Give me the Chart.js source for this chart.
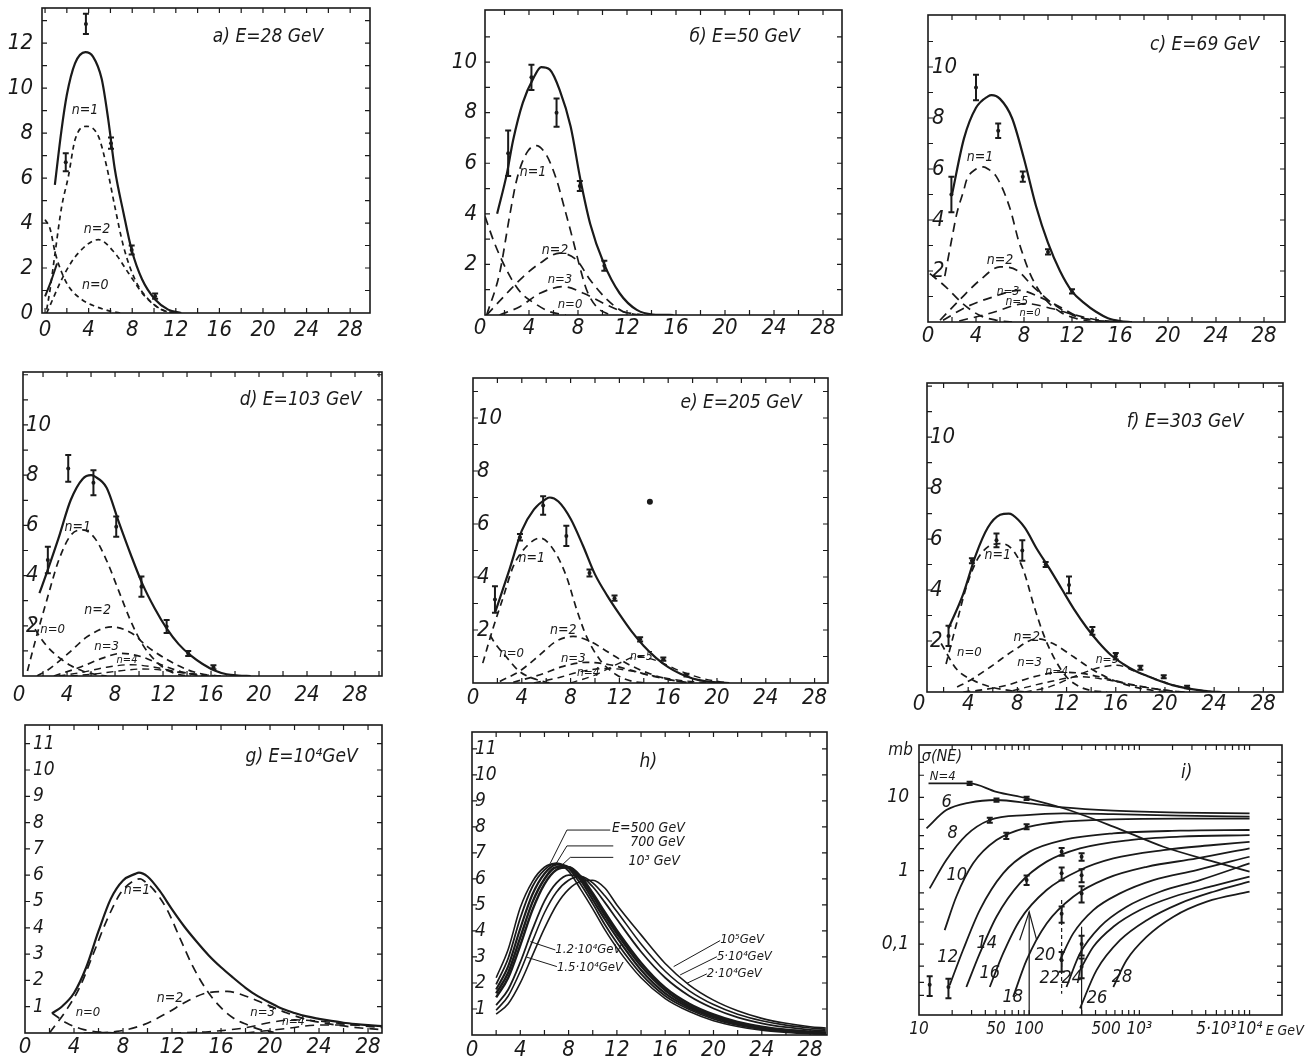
<!DOCTYPE html>
<html><head><meta charset="utf-8">
<script src="https://cdn.jsdelivr.net/npm/chart.js@4.4.1/dist/chart.umd.min.js"></script>
<style>html,body{margin:0;padding:0;background:#fff}body{width:1308px;height:1063px;position:relative;overflow:hidden}canvas{position:absolute;left:0;top:0}</style>
</head><body>
<script>
// ---------- tick values ----------
const evenTicks=[0,2,4,6,8,10,12,14,16,18,20,22,24,26,28,30];
const unitTicks=[0,1,2,3,4,5,6,7,8,9,10,11,12,13];
const xTickVals=[0,4,8,12,16,20,24,28];
const yTickA=[0,2,4,6,8,10,12];
const yTick210=[2,4,6,8,10];
const yTick111=[1,2,3,4,5,6,7,8,9,10,11];
const iXTickVals=[10,50,100,500,1000,5000,10000];
const iXTickText=['10','50','100','500','10³','5·10³','10⁴'];
const iYTickVals=[10,1,0.1];
const iYTickText=['10','1','0,1'];
const iMinorX=[20,30,40,50,60,70,80,90,100,200,300,400,500,600,700,800,900,1000,2000,3000,4000,5000,6000,7000,8000,9000,10000];
const iMinorY=[0.02,0.03,0.05,0.1,0.2,0.3,0.5,1,2,3,5,10,20,30];

// ---------- a) E=28 GeV ----------
const aSolidX=[0.9,1.5,2,2.75,3.7,4.4,5.2,5.8,6.4,7.2,7.95,8.9,10.1,11.3,12.5];
const aSolidY=[5.7,8.1,9.7,11.1,11.6,11.4,10.4,8.6,6.4,4.45,2.8,1.5,0.6,0.15,0];
const aLowX=[0,0.5,1.1];
const aLowY=[0.74,1.35,2.2];
const aN1X=[0.15,0.46,0.92,1.53,2.14,2.75,3.8,4.9,5.66,6.4,7.2,8.26,9.5,10.7,11.9];
const aN1Y=[0.15,1.04,2.67,4.74,6.07,7.7,8.3,7.85,6.5,4.74,2.96,1.48,0.6,0.15,0];
const aN2X=[0.15,1.83,3.06,4.9,6.4,7.65,9.17,10.7,11.9];
const aN2Y=[0,1.78,2.67,3.26,2.67,1.78,0.74,0.15,0];
const aN0X=[0,0.46,0.92,1.53,2.14,3.36,4.6,6.1,7.0];
const aN0Y=[4.15,3.75,2.7,1.8,1.2,0.6,0.3,0.07,0];
const aPtsX=[1.9,3.75,6.05,7.95,10.1];
const aPtsY=[6.7,12.85,7.55,2.8,0.75];
const aPtsE=[0.4,0.45,0.25,0.2,0.12];

// ---------- b) E=50 GeV ----------
const bSolidX=[1.4,2.2,2.7,3.5,4.4,5.0,5.7,6.5,7.4,8.2,9.0,10.1,11.4,12.8,14.1,15.8];
const bSolidY=[4.0,5.6,6.9,8.4,9.4,9.8,9.7,8.9,7.45,5.35,3.6,2.05,0.86,0.2,0.02,0];
const bN1X=[0.55,1.6,2.45,3.0,3.8,4.6,5.45,6.25,6.8,7.6,8.15,8.7,9.5,10.6];
const bN1Y=[0,1.65,4.0,5.35,6.4,6.7,6.3,5.35,4.4,2.95,1.9,1.0,0.33,0];
const bN0X=[0.41,1.1,1.8,2.6,3.4,4.5,5.7,7.0];
const bN0Y=[3.9,2.95,2.15,1.4,0.85,0.45,0.13,0];
const bN2X=[0.55,2.2,3.5,4.9,6.5,7.9,9.0,10.4,11.7,13.1];
const bN2Y=[0,0.86,1.5,2.05,2.45,2.17,1.38,0.6,0.13,0];
const bN3X=[1.6,3.25,4.9,6.8,8.45,10.1,11.7,13.3];
const bN3Y=[0,0.33,0.86,1.12,0.86,0.46,0.13,0];
const bPtsX=[2.3,4.2,6.25,8.15,10.15];
const bPtsY=[6.4,9.4,8.0,5.1,1.95];
const bPtsE=[0.9,0.5,0.56,0.2,0.2];

// ---------- c) E=69 GeV ----------
const cSolidX=[2,3,4,5,5.3,6,7,8,9,10,11,12,13,14,15,16,17];
const cSolidY=[5.0,7.2,8.4,8.85,8.9,8.75,8.0,6.4,4.55,3.1,2.0,1.2,0.75,0.4,0.15,0.04,0];
const cN1X=[1.4,2,2.4,3,3.2,4,4.6,5,5.7,6.8,7.6,8.5,9.6,11,12.4,13.8];
const cN1Y=[1.8,3.3,4.25,5.2,5.55,6.0,6.08,6.0,5.7,4.5,3.1,1.9,1.0,0.4,0.13,0];
const cN0X=[0.15,1.5,2.9,4.3,5.7,7];
const cN0Y=[1.9,1.37,0.72,0.26,0.07,0];
const cN2X=[1,2.6,4.3,6,7.4,8.8,10.4,12.1,13.8,15.4];
const cN2Y=[0.07,0.85,1.63,2.16,2.03,1.37,0.72,0.26,0.07,0];
const cN3X=[1.25,3.2,5.4,7.6,9.3,11,12.6,14.3,16];
const cN3Y=[0.07,0.59,0.98,1.24,0.98,0.59,0.2,0.04,0];
const cN5X=[2.6,5.1,8.2,10.4,12.4,14.3,16];
const cN5Y=[0.04,0.33,0.72,0.52,0.26,0.07,0];
const cPtsX=[1.95,4.0,5.85,7.9,10.0,12.0];
const cPtsY=[5.0,9.2,7.5,5.7,2.75,1.2];
const cPtsE=[0.7,0.5,0.28,0.2,0.1,0.08];

// ---------- d) E=103 GeV ----------
const dSolidX=[1.7,2.3,3.3,4.3,5.3,6.0,6.3,7.3,8.3,9.3,10.3,11.3,12.3,13.3,14.3,15.3,16.3,17.3,18.3,19.3];
const dSolidY=[3.3,4.1,5.5,7.0,7.85,8.0,7.95,7.5,6.15,4.85,3.65,2.7,1.9,1.27,0.82,0.48,0.22,0.07,0.02,0];
const dN1X=[0.7,1.3,2.3,3.3,4.3,5.3,6.3,7.3,8.3,9.3,10.3,11.3,12.3,13.3,14.3];
const dN1Y=[0.2,1.3,3.0,4.6,5.6,5.82,5.5,4.6,3.4,2.2,1.25,0.64,0.25,0.06,0];
const dN0X=[0.9,1.3,2.3,3.3,4.3,5.3,6.3,7.3];
const dN0Y=[2.3,1.9,1.2,0.75,0.42,0.2,0.07,0];
const dN2X=[1.5,2.4,4.1,5.7,7.7,9.4,10.7,12.4,14.1,15.7,16.8];
const dN2Y=[0,0.24,0.9,1.57,1.96,1.7,1.17,0.64,0.24,0.04,0];
const dN3X=[2.9,5.2,6.9,8.5,10.2,11.9,13.5,15.2];
const dN3Y=[0,0.37,0.7,0.9,0.77,0.44,0.17,0];
const dN4X=[3.3,5.3,7.3,9.3,11.3,13.3,15.3,16.3];
const dN4Y=[0,0.15,0.35,0.45,0.35,0.15,0.03,0];
const dN5X=[4.3,6.3,8.3,10.3,12.3,14.3,16.3,17.3];
const dN5Y=[0,0.08,0.2,0.28,0.22,0.1,0.02,0];
const dPtsX=[2.4,4.1,6.2,8.1,10.2,12.3,14.1,16.2];
const dPtsY=[4.62,8.27,7.7,5.95,3.56,1.97,0.9,0.35];
const dPtsE=[0.53,0.53,0.5,0.4,0.4,0.26,0.1,0.08];

// ---------- e) E=205 GeV ----------
const eSolidX=[1.8,3,4,5,6,6.3,7,8,9,10,11,12,13,14,15,16,17,18,19,20,21];
const eSolidY=[2.65,4.3,5.75,6.55,6.95,7.0,6.85,6.2,5.2,4.1,3.3,2.6,1.95,1.4,0.95,0.6,0.35,0.17,0.07,0.02,0];
const eN1X=[0.8,1.6,2.5,3.3,4.4,5.5,6.6,7.65,8.5,9.3,10.4,11.75,13.1,14.2];
const eN1Y=[0.75,2.0,3.27,4.4,5.16,5.47,5.03,4.03,2.77,1.76,0.88,0.31,0.06,0];
const eN0X=[1.4,1.8,2.7,3.8,5.2,6.3];
const eN0Y=[1.8,1.5,1.0,0.44,0.13,0];
const eN2X=[2.2,3.8,5.5,6.8,8.2,9.6,11.2,12.8,14.5,16.1,17.8];
const eN2Y=[0.06,0.44,1.07,1.57,1.76,1.57,1.13,0.69,0.35,0.13,0];
const eN3X=[3.3,5.5,7.4,9.3,11.2,12.8,14.5,16.4,18];
const eN3Y=[0.03,0.31,0.63,0.78,0.69,0.5,0.28,0.1,0];
const eN4X=[5,7,9,11,13,15,17,19,20];
const eN4Y=[0,0.2,0.45,0.55,0.45,0.25,0.1,0.02,0];
const eN5X=[8,10,12,13.5,15,17,19,21];
const eN5Y=[0,0.3,0.75,1.0,0.85,0.45,0.15,0];
const ePtsX=[1.8,3.85,5.75,7.65,9.55,11.6,13.7,15.6,17.5];
const ePtsY=[3.15,5.5,6.7,5.55,4.15,3.2,1.65,0.9,0.3];
const ePtsE=[0.5,0.12,0.35,0.38,0.13,0.1,0.08,0.06,0.05];
const eDotX=[14.5];
const eDotY=[6.84];

// ---------- f) E=303 GeV ----------
const fSolidX=[2.4,3.6,4.6,5.6,6.6,7.3,7.6,8.6,9.6,10.6,11.6,12.6,13.6,14.6,15.6,16.6,17.6,18.6,19.6,20.6,21.6,22.6,23.6,24.6];
const fSolidY=[2.5,3.85,5.35,6.45,6.95,7.0,6.95,6.45,5.6,4.85,4.05,3.25,2.55,1.95,1.45,1.1,0.82,0.62,0.43,0.27,0.16,0.08,0.02,0];
const fN1X=[2.2,3.05,3.85,4.7,5.6,6.7,7.65,8.5,9.3,10.1,10.95,12.0,13.1,14.2,15.3];
const fN1Y=[1.1,2.68,4.12,5.16,5.69,5.82,5.56,4.77,3.46,2.29,1.37,0.59,0.2,0.04,0];
const fN0X=[1.8,3.05,4.4,5.8,7.4,8.8];
const fN0Y=[1.9,0.9,0.46,0.2,0.06,0];
const fN2X=[3.1,3.9,5.8,7.7,9.6,10.9,12.6,14.2,15.8,17.5,19.4,20.7];
const fN2Y=[0.2,0.39,0.98,1.63,2.09,1.9,1.37,0.85,0.46,0.2,0.04,0];
const fN3X=[3.6,4.95,7.1,9.3,11.5,13.4,15.3,17.2,19.1,21.3];
const fN3Y=[0,0.07,0.26,0.59,0.78,0.72,0.52,0.3,0.13,0];
const fN4X=[7.6,10.6,13.1,15.6,17.6,19.6,21.6];
const fN4Y=[0.05,0.4,0.6,0.45,0.25,0.1,0];
const fN5X=[8.6,10.6,12.6,14.6,16.1,17.6,19.6,21.6,23.6,24.6];
const fN5Y=[0,0.2,0.6,0.95,1.05,0.8,0.45,0.15,0.03,0];
const fPtsX=[2.4,4.3,6.3,8.4,10.3,12.2,14.1,16.0,18.0,19.9,21.8];
const fPtsY=[2.2,5.15,5.95,5.55,5.0,4.2,2.4,1.4,0.95,0.6,0.2];
const fPtsE=[0.4,0.1,0.27,0.4,0.1,0.33,0.15,0.13,0.08,0.06,0.05];

// ---------- g) E=10^4 GeV ----------
const gSolidX=[2.2,3,4,5,6,7,8,9,9.3,10,11,12,13,14,15,16,17,18,19,20,21,22,23,24,25,26,27,28,29.2];
const gSolidY=[0.75,1.0,1.52,2.5,3.87,5.1,5.8,6.05,6.1,5.95,5.4,4.7,4.05,3.48,2.95,2.5,2.1,1.72,1.4,1.15,0.92,0.76,0.63,0.54,0.46,0.39,0.34,0.3,0.26];
const gN1X=[2,3.4,4.5,5.6,6.7,7.8,8.8,9.4,9.7,10.5,11.6,12.7,13.7,14.8,15.9,17,18.1,19.2,20.3];
const gN1Y=[0,0.89,1.77,3.04,4.31,5.32,5.77,5.86,5.79,5.45,4.69,3.55,2.53,1.65,1.01,0.57,0.32,0.13,0.03];
const gN0X=[2.2,3.4,4.8,6.1,7.8];
const gN0Y=[0.76,0.38,0.13,0.03,0];
const gN2X=[4.8,7.5,9.7,11.6,13.2,14.8,16.5,18.1,19.7,21.4,23,25.2,27.4,29.2];
const gN2Y=[0,0.06,0.32,0.76,1.2,1.52,1.58,1.39,1.08,0.76,0.51,0.32,0.19,0.13];
const gN3X=[12,15,18,20,22,24,26,28,29.2];
const gN3Y=[0,0.05,0.2,0.4,0.5,0.45,0.35,0.25,0.2];
const gN4X=[18,21,24,27,29.2];
const gN4Y=[0,0.15,0.3,0.3,0.25];

// ---------- h) energy family ----------
const hX=[2,3,4,5,6,7,8,9,10,11,12,14,16,18,20,22,24,26,28,29.3];
const hE500=[2.2,3.3,4.9,5.9,6.45,6.6,6.3,5.6,4.85,4.05,3.35,2.2,1.4,0.9,0.55,0.33,0.18,0.1,0.05,0.03];
const hE700=[1.95,2.95,4.5,5.7,6.35,6.6,6.4,5.8,5.05,4.25,3.55,2.35,1.5,0.98,0.62,0.38,0.22,0.13,0.07,0.05];
const hE1000=[1.75,2.65,4.1,5.4,6.2,6.55,6.45,5.95,5.2,4.45,3.75,2.5,1.6,1.05,0.68,0.42,0.26,0.16,0.09,0.06];
const hE12k=[1.6,2.4,3.75,5.1,6.0,6.45,6.45,6.05,5.35,4.6,3.9,2.65,1.72,1.12,0.73,0.46,0.29,0.18,0.11,0.08];
const hE15k=[1.45,2.2,3.45,4.8,5.8,6.35,6.45,6.1,5.45,4.72,4.02,2.78,1.82,1.2,0.79,0.5,0.32,0.2,0.13,0.1];
const hE20k=[1.15,1.75,2.8,4.05,5.15,5.85,6.15,6.1,5.7,5.1,4.45,3.2,2.2,1.5,1.02,0.68,0.45,0.3,0.2,0.16];
const hE50k=[0.95,1.5,2.45,3.6,4.7,5.5,5.95,6.1,5.85,5.35,4.75,3.5,2.45,1.7,1.17,0.8,0.55,0.38,0.27,0.22];
const hE100k=[0.8,1.2,2.0,3.05,4.1,5.0,5.6,5.9,5.95,5.65,5.0,3.85,2.75,1.92,1.34,0.93,0.64,0.45,0.32,0.27];
const hLead500X=[11.45,7.86,6.48], hLead500Y=[7.88,7.88,6.6];
const hLead700X=[11.7,7.86,6.9], hLead700Y=[7.27,7.27,6.54];
const hLead1kX=[11.7,8.14,7.31], hLead1kY=[6.83,6.83,6.47];
const hLead12X=[4.83,6.9], hLead12Y=[3.59,3.27];
const hLead15X=[4.55,7.03], hLead15Y=[2.99,2.63];
const hLead1e5X=[16.7,20.55], hLead1e5Y=[2.63,3.63];
const hLead5e4X=[17.24,20.28], hLead5e4Y=[2.31,3.01];
const hLead2e4X=[17.8,19.45], hLead2e4Y=[1.99,2.35];

// ---------- i) sigma(N,E) ----------
const iN4E=[12.2,28.8,50.5,94.7,204,580,1650,4710,10000], iN4S=[15.5,15.5,11.9,9.7,7.1,4.0,2.12,1.33,0.97];
const iN6E=[11.7,17.7,28.8,50.5,101,204,580,2340,10000], iN6S=[3.78,6.7,8.5,9.2,8.3,7.3,6.6,6.2,6.05];
const iN8E=[12.5,17.7,26.9,43.9,94.7,204,580,2340,10000], iN8S=[0.574,1.4,3.06,4.91,5.74,6.05,5.9,5.62,5.45];
const iN10E=[17.1,21.8,31,50.5,101,204,580,2340,10000], iN10S=[0.155,0.442,1.26,2.62,3.98,4.66,5.01,5.12,5.12];
const iN12E=[19,25.1,35.6,58,101,204,580,2340,10000], iN12S=[0.0276,0.083,0.291,0.92,1.82,2.62,3.23,3.51,3.59];
const iN14E=[26.9,35.6,50.5,82.2,144,289,822,2340,10000], iN14S=[0.026,0.0746,0.236,0.672,1.33,2.02,2.62,2.91,3.06];
const iN16E=[43.9,58,82.2,144,289,580,1650,4710,10000], iN16S=[0.026,0.0746,0.212,0.545,1.02,1.47,1.91,2.24,2.48];
const iN18E=[71.6,94.7,144,251,505,1167,3320,10000], iN18S=[0.0191,0.0605,0.191,0.442,0.786,1.13,1.47,2.02];
const iN20E=[190,251,382,667,1340,3320,10000], iN20S=[0.0605,0.14,0.291,0.491,0.746,1.02,1.55];
const iN22E=[218,289,439,767,1542,3560,10000], iN22S=[0.026,0.0746,0.172,0.323,0.517,0.746,1.26];
const iN24E=[289,382,580,1014,2040,4710,10000], iN24S=[0.0442,0.092,0.172,0.291,0.442,0.62,0.83];
const iN26E=[289,409,667,1167,2340,4710,10000], iN26S=[0.0133,0.0442,0.113,0.212,0.359,0.517,0.708];
const iN28E=[580,767,1167,2040,4090,10000], iN28S=[0.026,0.0605,0.126,0.236,0.378,0.517];
const iV1E=[100,100], iV1S=[0.276,0.0108];
const iLamE=[82,100,117], iLamS=[0.113,0.276,0.113];
const iV2E=[197,197], iV2S=[0.4,0.021];
const iV3E=[299,299], iV3S=[0.172,0.0108];
const iPtsE=[12.5,18.5,28.8,50.5,43.9,62,94.7,94.7,94.7,197,197,197,197,299,299,299,299,299];
const iPtsS=[0.028,0.026,15.5,9.2,4.9,3.0,9.7,3.98,0.75,1.82,0.92,0.26,0.06,1.55,0.87,0.49,0.10,0.049];
const iPtsR=[0.3,0.3,0.05,0.05,0.08,0.1,0.05,0.08,0.15,0.12,0.2,0.25,0.3,0.12,0.2,0.25,0.3,0.3];

// ---------- rendering helpers ----------
const INK='#1a1a1a';
const FONT='"Liberation Sans Narrow","DejaVu Sans Condensed","Liberation Sans","DejaVu Sans",sans-serif';
const W=1308,H=1063;
const DS=[5,4], DM=[7,5], DL=[9,6];
function L(xs,ys,w,dash,smooth){
  if(smooth===undefined) smooth=true;
  return {data:xs.map((v,i)=>({x:v,y:ys[i]})),borderColor:INK,borderWidth:w,borderDash:dash||[],
    pointRadius:0,fill:false,tension:smooth?0.4:0,cubicInterpolationMode:smooth?'monotone':'default'};
}
function P(xs,ys,r){
  return {data:xs.map((v,i)=>({x:v,y:ys[i]})),showLine:false,pointRadius:r||2,pointBackgroundColor:INK,pointBorderWidth:0,borderColor:INK};
}
function framePlugin(f){
  return {id:'frame',afterDatasetsDraw(chart){
    const ctx=chart.ctx,a=chart.chartArea,sx=chart.scales.x,sy=chart.scales.y;
    ctx.save();ctx.strokeStyle=INK;ctx.fillStyle=INK;
    if(f.pts){const p=f.pts;ctx.lineWidth=2;ctx.beginPath();
      for(let i=0;i<p.x.length;i++){const X=sx.getPixelForValue(p.x[i]);
        const lo=f.log?p.y[i]*(1-p.e[i]):p.y[i]-p.e[i];const hi=f.log?p.y[i]*(1+p.e[i]):p.y[i]+p.e[i];
        const Y1=sy.getPixelForValue(lo),Y2=sy.getPixelForValue(hi);
        ctx.moveTo(X,Y1);ctx.lineTo(X,Y2);ctx.moveTo(X-3,Y1);ctx.lineTo(X+3,Y1);ctx.moveTo(X-3,Y2);ctx.lineTo(X+3,Y2);}
      ctx.stroke();}
    ctx.lineWidth=1.6;ctx.strokeRect(a.left,a.top,a.right-a.left,a.bottom-a.top);
    ctx.lineWidth=1.2;ctx.beginPath();
    f.mx.forEach(v=>{const X=sx.getPixelForValue(v);if(X<a.left+2||X>a.right-2)return;ctx.moveTo(X,a.bottom);ctx.lineTo(X,a.bottom-5);ctx.moveTo(X,a.top);ctx.lineTo(X,a.top+5);});
    f.my.forEach(v=>{const Y=sy.getPixelForValue(v);if(Y<a.top+2||Y>a.bottom-2)return;ctx.moveTo(a.left,Y);ctx.lineTo(a.left+5,Y);ctx.moveTo(a.right,Y);ctx.lineTo(a.right-5,Y);});
    ctx.stroke();
    ctx.textBaseline='middle';
    ctx.font='italic '+f.xs+'px '+FONT;ctx.textAlign='center';
    f.xv.forEach((v,i)=>ctx.fillText(f.xt[i],sx.getPixelForValue(v),a.bottom+f.xo));
    ctx.font='italic '+f.ys+'px '+FONT;ctx.textAlign=f.mirror?'left':'right';
    f.yv.forEach((v,i)=>ctx.fillText(f.yt[i],f.mirror?a.left+f.yo:a.left-f.yo,sy.getPixelForValue(v)));
    f.texts.forEach(t=>{ctx.font='italic '+(t.s||14)+'px '+FONT;ctx.textAlign=t.a||'center';ctx.fillText(t.t,sx.getPixelForValue(t.x),sy.getPixelForValue(t.y));});
    ctx.restore();
  }};
}
function panel(c){
  const cv=document.createElement('canvas');cv.width=W;cv.height=H;document.body.appendChild(cv);
  const [l,t,r,b]=c.plot;
  new Chart(cv,{type:'line',data:{datasets:c.ds},options:{responsive:false,animation:false,devicePixelRatio:1,events:[],
    layout:{padding:{left:l,top:t,right:W-r,bottom:H-b}},
    plugins:{legend:{display:false},tooltip:{enabled:false}},
    scales:{x:{type:c.xType||'linear',min:c.x[0],max:c.x[1],display:false},y:{type:c.yType||'linear',min:c.y[0],max:c.y[1],display:false}}},
    plugins:[framePlugin(c.f)]});
}
const xt=xTickVals.map(String);
function std(extra){return Object.assign({mx:evenTicks,my:unitTicks,xs:22,ys:22,xv:xTickVals,xt:xt},extra);}

// a
panel({plot:[42,8,370,313],x:[-0.28,29.82],y:[0,13.56],
  ds:[L(aSolidX,aSolidY,2.2),L(aLowX,aLowY,2),L(aN1X,aN1Y,1.7,DS),L(aN2X,aN2Y,1.7,DS),L(aN0X,aN0Y,1.7,DS),P(aPtsX,aPtsY)],
  f:std({xo:17,yv:yTickA,yt:yTickA.map(String),yo:9,mirror:false,pts:{x:aPtsX,y:aPtsY,e:aPtsE},
    texts:[{t:'a) E=28 GeV',x:15.4,y:12.27,s:19,a:'left'},{t:'n=1',x:3.67,y:9.0},{t:'n=2',x:4.77,y:3.7},{t:'n=0',x:4.6,y:1.25}]})});
// b
panel({plot:[485,10,842,315],x:[0.41,29.55],y:[0,12.06],
  ds:[L(bSolidX,bSolidY,2.2),L(bN1X,bN1Y,1.7,DL),L(bN0X,bN0Y,1.7,DL),L(bN2X,bN2Y,1.7,DL),L(bN3X,bN3Y,1.7,DL),P(bPtsX,bPtsY)],
  f:std({my:[0,1,2,3,4,5,6,7,8,9,10,11,12],xo:13,yv:yTick210,yt:yTick210.map(String),yo:8,mirror:false,pts:{x:bPtsX,y:bPtsY,e:bPtsE},
    texts:[{t:'б) E=50 GeV',x:17.1,y:10.98,s:19,a:'left'},{t:'n=1',x:4.33,y:5.65},{t:'n=2',x:6.12,y:2.57},{t:'n=3',x:6.53,y:1.38,s:13},{t:'n=0',x:7.35,y:0.4,s:13}]})});
// c
panel({plot:[928,15,1285,322],x:[0,29.75],y:[0,12.04],
  ds:[L(cSolidX,cSolidY,2.2),L(cN1X,cN1Y,1.7,DL),L(cN0X,cN0Y,1.7,DL),L(cN2X,cN2Y,1.7,DL),L(cN3X,cN3Y,1.7,DL),L(cN5X,cN5Y,1.6,DL),P(cPtsX,cPtsY)],
  f:std({xo:14,yv:yTick210,yt:yTick210.map(String),yo:4,mirror:true,pts:{x:cPtsX,y:cPtsY,e:cPtsE},
    texts:[{t:'c) E=69 GeV',x:18.5,y:10.86,s:19,a:'left'},{t:'n=1',x:4.33,y:6.47},{t:'n=2',x:6.0,y:2.43},{t:'n=3',x:6.67,y:1.18,s:12},{t:'n=5',x:7.4,y:0.78,s:12},{t:'n=0',x:8.5,y:0.35,s:11}]})});
// d
panel({plot:[23,372,382,676],x:[0.33,30.25],y:[0,12.11],
  ds:[L(dSolidX,dSolidY,2.2),L(dN1X,dN1Y,1.7,DM),L(dN0X,dN0Y,1.7,DM),L(dN2X,dN2Y,1.7,DM),L(dN3X,dN3Y,1.7,DM),L(dN4X,dN4Y,1.4,DM),L(dN5X,dN5Y,1.4,DM),P(dPtsX,dPtsY)],
  f:std({xo:19,yv:yTick210,yt:yTick210.map(String),yo:3,mirror:true,pts:{x:dPtsX,y:dPtsY,e:dPtsE},
    texts:[{t:'d) E=103 GeV',x:18.4,y:11.0,s:19,a:'left'},{t:'n=1',x:4.9,y:5.94},{t:'n=2',x:6.55,y:2.63},{t:'n=3',x:7.3,y:1.16,s:13},{t:'n=0',x:2.8,y:1.83,s:13},{t:'n=4',x:9.0,y:0.62,s:11}]})});
// e
panel({plot:[473,378,828,683],x:[0,29.1],y:[0,11.51],
  ds:[L(eSolidX,eSolidY,2.2),L(eN1X,eN1Y,1.7,DM),L(eN0X,eN0Y,1.7,DM),L(eN2X,eN2Y,1.7,DM),L(eN3X,eN3Y,1.7,DM),L(eN4X,eN4Y,1.4,DM),L(eN5X,eN5Y,1.4,DM),P(ePtsX,ePtsY),P(eDotX,eDotY,3)],
  f:std({my:[0,1,2,3,4,5,6,7,8,9,10,11],xo:15,yv:yTick210,yt:yTick210.map(String),yo:4,mirror:true,pts:{x:ePtsX,y:ePtsY,e:ePtsE},
    texts:[{t:'e) E=205 GeV',x:17.0,y:10.57,s:19,a:'left'},{t:'n=1',x:4.81,y:4.71},{t:'n=2',x:7.4,y:2.0},{t:'n=3',x:8.22,y:0.93,s:13},{t:'n=4',x:9.45,y:0.37,s:12},{t:'n=5',x:13.8,y:0.99,s:12},{t:'n=0',x:3.17,y:1.12,s:13}]})});
// f
panel({plot:[927,383,1283,692],x:[0.65,29.6],y:[0,12.12],
  ds:[L(fSolidX,fSolidY,2.2),L(fN1X,fN1Y,1.7,DM),L(fN0X,fN0Y,1.7,DM),L(fN2X,fN2Y,1.7,DM),L(fN3X,fN3Y,1.7,DM),L(fN4X,fN4Y,1.4,DM),L(fN5X,fN5Y,1.4,DM),P(fPtsX,fPtsY)],
  f:std({xo:12,yv:yTick210,yt:yTick210.map(String),yo:3,mirror:true,pts:{x:fPtsX,y:fPtsY,e:fPtsE},
    texts:[{t:'f) E=303 GeV',x:16.9,y:10.6,s:19,a:'left'},{t:'n=1',x:6.4,y:5.37},{t:'n=2',x:8.76,y:2.16},{t:'n=3',x:9.0,y:1.14,s:13},{t:'n=4',x:11.2,y:0.78,s:12},{t:'n=5',x:15.3,y:1.25,s:12},{t:'n=0',x:4.1,y:1.53,s:13}]})});
// g
panel({plot:[25,725,382,1033],x:[0,29.14],y:[0,11.71],
  ds:[L(gSolidX,gSolidY,2.2),L(gN1X,gN1Y,1.7,DL),L(gN0X,gN0Y,1.7,DL),L(gN2X,gN2Y,1.7,DL),L(gN3X,gN3Y,1.5,DL),L(gN4X,gN4Y,1.5,DL)],
  f:std({my:[0,1,2,3,4,5,6,7,8,9,10,11],xo:14,ys:19,yv:yTick111,yt:yTick111.map(String),yo:8,mirror:true,
    texts:[{t:'g) E=10⁴GeV',x:18.0,y:10.5,s:19,a:'left'},{t:'n=1',x:9.14,y:5.44},{t:'n=2',x:11.84,y:1.33},{t:'n=3',x:19.4,y:0.76,s:13},{t:'n=0',x:5.14,y:0.76,s:13},{t:'n=4',x:21.9,y:0.42,s:12}]})});
// h
panel({plot:[472,732,827,1035],x:[0,29.4],y:[0,11.65],
  ds:[L(hX,hE500,1.6),L(hX,hE700,1.8),L(hX,hE1000,2.2),L(hX,hE12k,2.4),L(hX,hE15k,2.4),L(hX,hE20k,1.8),L(hX,hE50k,1.6),L(hX,hE100k,1.6),
    L(hLead500X,hLead500Y,1,[],false),L(hLead700X,hLead700Y,1,[],false),L(hLead1kX,hLead1kY,1,[],false),L(hLead12X,hLead12Y,1,[],false),L(hLead15X,hLead15Y,1,[],false),
    L(hLead1e5X,hLead1e5Y,1,[],false),L(hLead5e4X,hLead5e4Y,1,[],false),L(hLead2e4X,hLead2e4Y,1,[],false)],
  f:std({my:[0,1,2,3,4,5,6,7,8,9,10,11],xo:15,ys:19,yv:yTick111,yt:yTick111.map(String),yo:3,mirror:true,
    texts:[{t:'h)',x:14.6,y:10.5,s:19},{t:'E=500 GeV',x:11.6,y:7.95,s:14,a:'left'},{t:'700 GeV',x:13.1,y:7.4,s:14,a:'left'},{t:'10³ GeV',x:12.97,y:6.67,s:14,a:'left'},
      {t:'1.2·10⁴GeV',x:6.9,y:3.27,s:13,a:'left'},{t:'1.5·10⁴GeV',x:7.03,y:2.6,s:13,a:'left'},{t:'10⁵GeV',x:20.55,y:3.65,s:13,a:'left'},{t:'5·10⁴GeV',x:20.28,y:3.0,s:13,a:'left'},{t:'2·10⁴GeV',x:19.45,y:2.37,s:13,a:'left'}]})});
// i
panel({plot:[919,745,1282,1015],xType:'logarithmic',yType:'logarithmic',x:[10,19700],y:[0.0108,51.7],
  ds:[L(iN4E,iN4S,1.8),L(iN6E,iN6S,1.8),L(iN8E,iN8S,1.8),L(iN10E,iN10S,1.8),L(iN12E,iN12S,1.8),L(iN14E,iN14S,1.8),L(iN16E,iN16S,1.8),L(iN18E,iN18S,1.8),
    L(iN20E,iN20S,1.8),L(iN22E,iN22S,1.8),L(iN24E,iN24S,1.8),L(iN26E,iN26S,1.8),L(iN28E,iN28S,1.8),
    L(iV1E,iV1S,1.2,[],false),L(iLamE,iLamS,1.2,[],false),L(iV2E,iV2S,1.2,[4,3],false),L(iV3E,iV3S,1.2,[],false),P(iPtsE,iPtsS)],
  f:{log:true,mx:iMinorX,my:iMinorY,xs:17,ys:19,xv:iXTickVals,xt:iXTickText,xo:15,yv:iYTickVals,yt:iYTickText,yo:10,mirror:false,
    pts:{x:iPtsE,y:iPtsS,e:iPtsR},
    texts:[{t:'mb',x:6.8,y:44,s:17},{t:'σ(NE)',x:10.6,y:35.5,s:16,a:'left'},{t:'N=4',x:12.5,y:19,s:13,a:'left'},{t:'i)',x:2690,y:21.6,s:19},
      {t:'E GeV',x:14000,y:0.0065,s:14,a:'left'},
      {t:'6',x:17.8,y:8.65,s:18},{t:'8',x:20.2,y:3.28,s:18},{t:'10',x:22,y:0.877,s:18},{t:'12',x:18.2,y:0.066,s:18},{t:'14',x:41.2,y:0.103,s:18},
      {t:'16',x:43.9,y:0.0403,s:18},{t:'18',x:71,y:0.019,s:18},{t:'20',x:139,y:0.0708,s:18},{t:'22',x:154,y:0.0344,s:18},{t:'24',x:244,y:0.0344,s:18},
      {t:'26',x:412,y:0.0183,s:18},{t:'28',x:695,y:0.0355,s:18}]}});
</script>
</body></html>
